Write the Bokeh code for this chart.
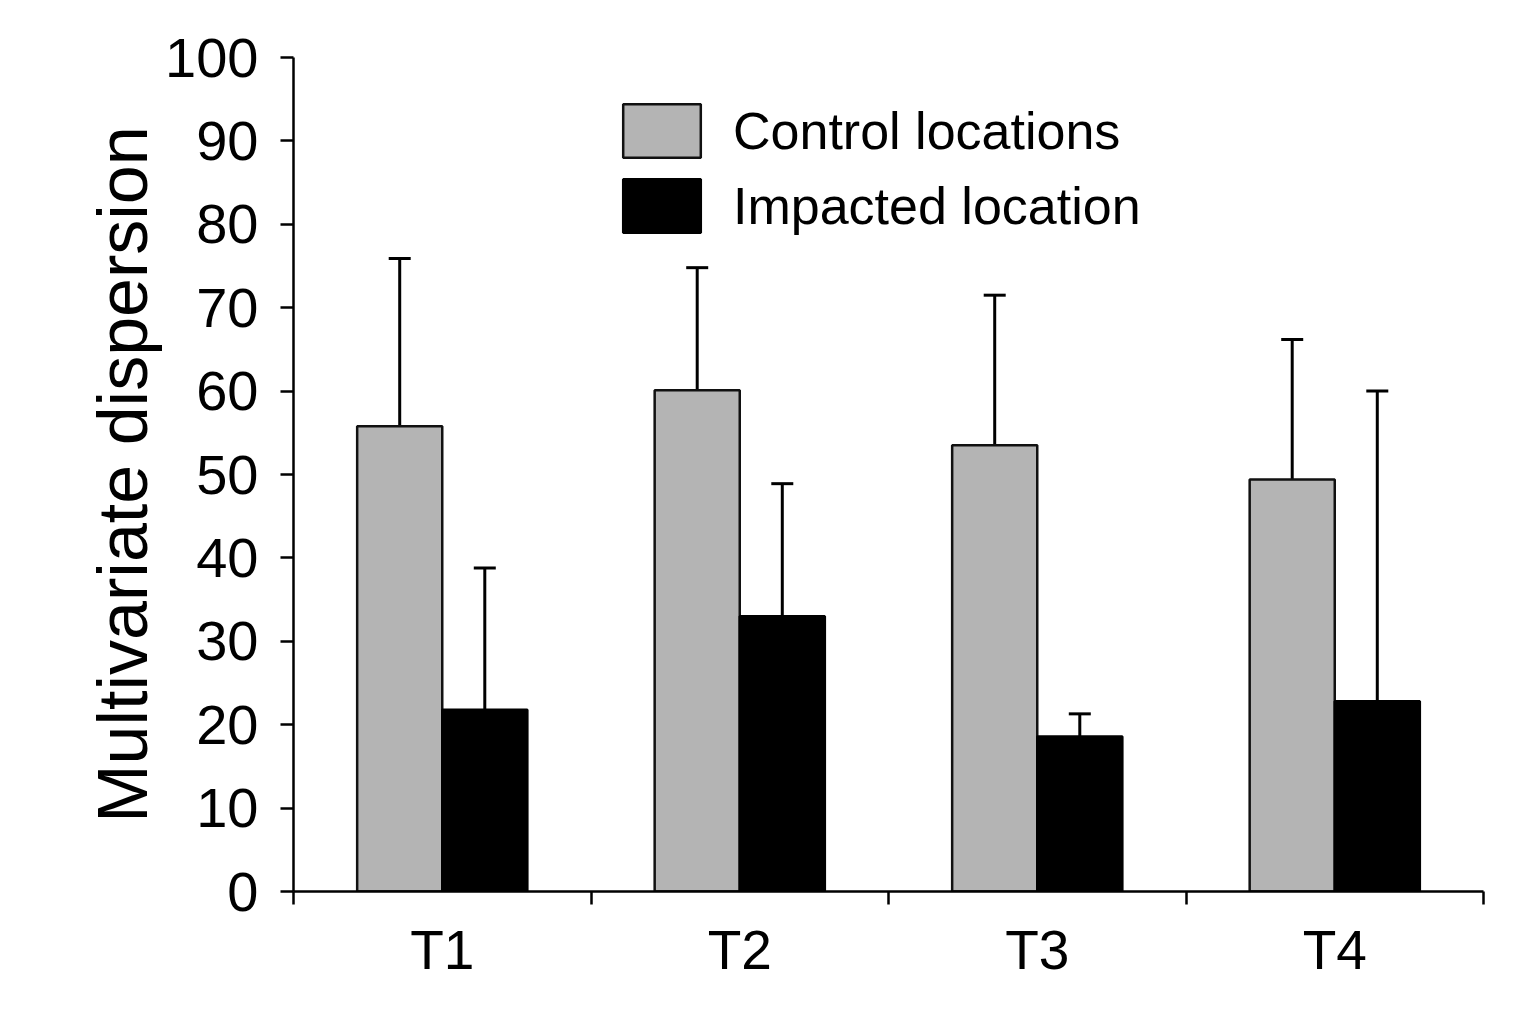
from bokeh.plotting import figure
from bokeh.models import (ColumnDataSource, FixedTicker, Whisker, TeeHead,
                          Legend, LegendItem, Range1d)
from bokeh.embed import file_html
from bokeh.resources import INLINE

# ---- data ----
categories = ["T1", "T2", "T3", "T4"]
control_mean = [55.8, 60.1, 53.5, 49.4]
control_upper = [75.9, 74.8, 71.5, 66.2]
impacted_mean = [21.8, 33.0, 18.6, 22.8]
impacted_upper = [38.8, 48.9, 21.3, 60.0]
y_ticks = [0, 10, 20, 30, 40, 50, 60, 70, 80, 90, 100]

FONT = "Liberation Sans"
BAR_W = 0.286
idx = list(range(len(categories)))
ctrl_x = [i + 0.5 - BAR_W / 2 for i in idx]
imp_x = [i + 0.5 + BAR_W / 2 for i in idx]

ctrl_src = ColumnDataSource(dict(x=ctrl_x, top=control_mean, upper=control_upper))
imp_src = ColumnDataSource(dict(x=imp_x, top=impacted_mean, upper=impacted_upper))

p = figure(width=1513, height=1001, output_backend="svg", toolbar_location=None,
           x_range=Range1d(0, len(categories)), y_range=Range1d(0, 100),
           min_border_left=293, min_border_right=30, min_border_top=57,
           min_border_bottom=110)
p.frame_width = 1190
p.frame_height = 834
p.background_fill_color = "white"
p.border_fill_color = "white"
p.outline_line_color = None
p.xgrid.visible = False
p.ygrid.visible = False

# whiskers (drawn before bars so bars cover the base)
for src in (ctrl_src, imp_src):
    w = Whisker(source=src, base="x", lower="top", upper="upper",
                line_color="black", line_width=3,
                upper_head=TeeHead(size=22, line_width=3, line_color="black"),
                lower_head=None)
    p.add_layout(w)

r_ctrl = p.vbar(x="x", top="top", width=BAR_W, source=ctrl_src,
                fill_color="#b4b4b4", line_color="#111111", line_width=2.5)
r_imp = p.vbar(x="x", top="top", width=BAR_W, source=imp_src,
               fill_color="black", line_color="black", line_width=2.5)

# y axis
ya = p.yaxis[0]
ya.ticker = FixedTicker(ticks=y_ticks)
ya.axis_line_width = 2.5
ya.major_tick_line_width = 2.5
ya.major_tick_out = 13
ya.major_tick_in = 0
ya.minor_tick_line_color = None
ya.major_label_text_font = FONT
ya.major_label_text_font_size = "56px"
ya.major_label_text_color = "black"
ya.major_label_standoff = 22
ya.axis_label = "Multivariate dispersion"
ya.axis_label_text_font = FONT
ya.axis_label_text_font_size = "70px"
ya.axis_label_text_font_style = "normal"
ya.axis_label_text_color = "black"
ya.axis_label_standoff = 0

# x axis: labels at category centres, ticks at boundaries
xa = p.xaxis[0]
xa.ticker = FixedTicker(ticks=[i + 0.5 for i in idx],
                        minor_ticks=list(range(len(categories) + 1)))
xa.major_label_overrides = {i + 0.5: c for i, c in zip(idx, categories)}
xa.axis_line_width = 2.5
xa.major_tick_line_color = None
xa.minor_tick_line_width = 2.5
xa.minor_tick_out = 13
xa.minor_tick_in = 0
xa.major_label_text_font = FONT
xa.major_label_text_font_size = "55px"
xa.major_label_text_color = "black"
xa.major_label_standoff = 14

legend = Legend(items=[LegendItem(label="Control locations", renderers=[r_ctrl]),
                       LegendItem(label="Impacted location", renderers=[r_imp])],
                location=(320, 652), orientation="vertical",
                glyph_width=97, glyph_height=67, spacing=8, label_standoff=23,
                padding=0, margin=0, border_line_color=None,
                background_fill_alpha=0,
                label_text_font=FONT, label_text_font_size="52px",
                label_text_color="black")
p.add_layout(legend)

open("out.html", "w").write(file_html(p, INLINE))
